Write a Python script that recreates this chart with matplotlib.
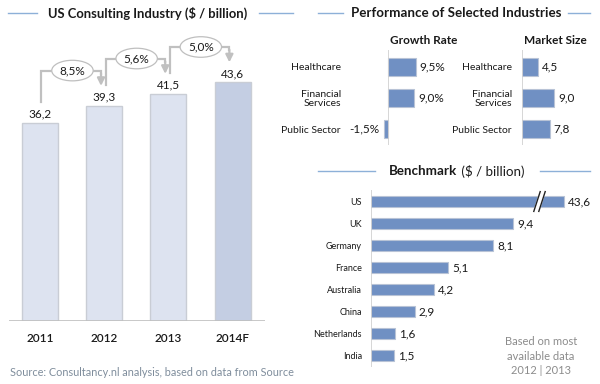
import matplotlib
matplotlib.use("Agg")
import matplotlib.pyplot as plt
import numpy as np

plt.rcParams['font.family'] = ['Lato', 'DejaVu Sans']

# ---------------- data ----------------
years = ["2011", "2012", "2013", "2014F"]
us_values = [36.2, 39.3, 41.5, 43.6]
us_growth = ["8,5%", "5,6%", "5,0%"]

industries = ["Healthcare", "Financial\nServices", "Public Sector"]
growth_rate = [9.5, 9.0, -1.5]
market_size = [4.5, 9.0, 7.8]

countries = ["US", "UK", "Germany", "France", "Australia", "China", "Netherlands", "India"]
bench_values = [43.6, 9.4, 8.1, 5.1, 4.2, 2.9, 1.6, 1.5]
break_at = 12.8  # displayed length of the broken US bar

def fmt(v, d=1):
    return f"{v:.{d}f}".replace(".", ",")

W, H = 600, 384
fig = plt.figure(figsize=(6, 3.84), dpi=100)

def add_ax(l, t, w, h):
    return fig.add_axes([l / W, 1 - (t + h) / H, w / W, h / H])

def ftext(x, y, s, **kw):
    fig.text(x / W, 1 - y / H, s, **kw)

def fline(x0, x1, y, color="#8DB0D8", lw=1.0):
    fig.add_artist(plt.Line2D([x0 / W, x1 / W], [1 - y / H, 1 - y / H], color=color, lw=lw))

TXT = "#1a1a1a"
BLUE = "#7090C3"
BEDGE = "#B8C3D6"

# ---------------- titles ----------------
ftext(148, 13, "US Consulting Industry ($ / billion)", ha="center", va="center",
      fontsize=9.4, fontweight="bold", color=TXT)
fline(8, 37, 13); fline(259, 293, 13)
ftext(456, 13, "Performance of Selected Industries", ha="center", va="center",
      fontsize=9.6, fontweight="bold", color=TXT)
fline(318, 343, 13); fline(568, 590, 13)
ftext(457, 171, "Benchmark", ha="right", va="center", fontsize=9.6, fontweight="bold", color=TXT)
ftext(458, 171, " ($ / billion)", ha="left", va="center", fontsize=9.6, color=TXT)
fline(318, 375, 171); fline(540, 590, 171)

# ---------------- left: US consulting ----------------
scale = 5.48  # px per unit
axL = add_ax(9, 40, 256, 281)
axL.set_xlim(-0.484, 3.505)
axL.set_ylim(0, 281 / scale)
xs = np.arange(len(years))
cols = ["#DDE3F0"] * 3 + ["#C4CEE3"]
axL.bar(xs, us_values, width=0.5625, color=cols, edgecolor="#C9CDD5", linewidth=1.0)
axL.axhline(0, color="#BFBFBF", lw=1.2)
for x, v in zip(xs, us_values):
    axL.annotate(fmt(v), (x, v), xytext=(0, 2), textcoords="offset points",
                 ha="center", va="bottom", fontsize=8.5, color=TXT)
for i, g in enumerate(us_growth):
    v0, v1 = us_values[i], us_values[i + 1]
    x0, x1 = i + 0.02, i + 1 - 0.05
    ys, yt, ye = v0 + 3.8, v1 + 6.4, v1 + 3.6
    axL.plot([x0, x0, x1, x1], [ys, yt, yt, yt - 0.6], color="#C0C0C0", lw=1.6,
             solid_joinstyle="miter")
    axL.annotate("", xy=(x1, ye), xytext=(x1, yt - 0.5),
                 arrowprops=dict(arrowstyle="-|>", color="#C0C0C0", lw=1.6,
                                 mutation_scale=11, shrinkA=0, shrinkB=0))
    axL.text((x0 + x1) / 2 + 0.02, yt, g, ha="center", va="center", fontsize=8.5, color=TXT,
             bbox=dict(boxstyle="ellipse,pad=0.15", fc="white", ec="#BFBFBF", lw=0.9))
axL.axis("off")
for x, y in zip(xs, years):
    axL.annotate(y, (x, 0), xytext=(0, -18), textcoords="offset pixels",
                 ha="center", va="center", fontsize=8.5, color=TXT, fontweight="semibold")

ftext(10, 372, "Source: Consultancy.nl analysis, based on data from Source",
      ha="left", va="center", fontsize=7.8, color="#7F8D9C")

# ---------------- right top: growth & market ----------------
ypos = np.arange(len(industries))
ylim_top = (2.516, -0.548)

axG = add_ax(388, 50, 60, 95)
gscale = 2.93
axG.set_xlim(0, 60 / gscale)
axG.set_ylim(*ylim_top)
axG.barh(ypos, growth_rate, height=0.58, color=BLUE, edgecolor=BEDGE, lw=0.8, clip_on=False)
axG.axvline(0, color="#D0D0D0", lw=1.2)
for y, v in zip(ypos, growth_rate):
    if v >= 0:
        axG.annotate(fmt(v) + "%", (v, y), xytext=(4, 0), textcoords="offset pixels",
                     ha="left", va="center", fontsize=8.5, color=TXT, annotation_clip=False)
    else:
        axG.annotate(fmt(v) + "%", (v, y), xytext=(-4, 0), textcoords="offset pixels",
                     ha="right", va="center", fontsize=8.5, color=TXT, annotation_clip=False)
axG.set_yticks(ypos, industries, fontsize=7.5, color=TXT, linespacing=1.0)
axG.tick_params(axis="y", length=0, pad=47 * 0.72)
axG.set_xticks([])
for s in axG.spines.values():
    s.set_visible(False)
ftext(424, 40, "Growth Rate", ha="center", va="center", fontsize=8.5, fontweight="bold", color=TXT)

axM = add_ax(522, 50, 60, 95)
mscale = 3.56
axM.set_xlim(0, 60 / mscale)
axM.set_ylim(*ylim_top)
axM.barh(ypos, market_size, height=0.58, color=BLUE, edgecolor=BEDGE, lw=0.8)
axM.axvline(0, color="#D0D0D0", lw=1.2)
for y, v in zip(ypos, market_size):
    axM.annotate(fmt(v), (v, y), xytext=(4, 0), textcoords="offset pixels",
                 ha="left", va="center", fontsize=8.5, color=TXT, annotation_clip=False)
axM.set_yticks(ypos, industries, fontsize=7.5, color=TXT, linespacing=1.0)
axM.tick_params(axis="y", length=0, pad=10 * 0.72)
axM.set_xticks([])
for s in axM.spines.values():
    s.set_visible(False)
ftext(555, 40, "Market Size", ha="center", va="center", fontsize=8.5, fontweight="bold", color=TXT)

# ---------------- right bottom: benchmark ----------------
bscale = 15.1
axB = add_ax(371, 190, 229, 177)
axB.set_xlim(0, 229 / bscale)
ny = len(countries)
by = np.arange(ny)
axB.set_ylim(ny - 1 + 0.523, -0.523)
shown = [min(v, break_at) for v in bench_values]
axB.barh(by, shown, height=0.52, color=BLUE, edgecolor=BEDGE, lw=0.8)
axB.axvline(0, color="#D0D0D0", lw=1.2)
for y, s, v in zip(by, shown, bench_values):
    axB.annotate(fmt(v), (s, y), xytext=(4, 0), textcoords="offset pixels",
                 ha="left", va="center", fontsize=8.5, color=TXT, annotation_clip=False)
axB.set_yticks(by, countries, fontsize=6.5, color=TXT)
axB.tick_params(axis="y", length=0, pad=9 * 0.72)
axB.set_xticks([])
for s in axB.spines.values():
    s.set_visible(False)
# axis break marks on the US bar
bx = (537 - 371) / bscale
dx = 3.2 / bscale
gap = 5 / bscale
yb, ytp = 0.45, -0.45
axB.fill([bx - dx, bx + dx, bx + dx + gap, bx - dx + gap], [yb, ytp, ytp, yb],
         color="white", zorder=3, clip_on=False)
for off in (0, gap):
    axB.plot([bx - dx + off, bx + dx + off], [yb, ytp], color="#222222", lw=1.0,
             zorder=4, clip_on=False)

ftext(541, 356, "Based on most\navailable data\n2012 | 2013", ha="center", va="center",
      fontsize=8, color="#8C8C8C", linespacing=1.35)

fig.savefig("out.png", dpi=100)
